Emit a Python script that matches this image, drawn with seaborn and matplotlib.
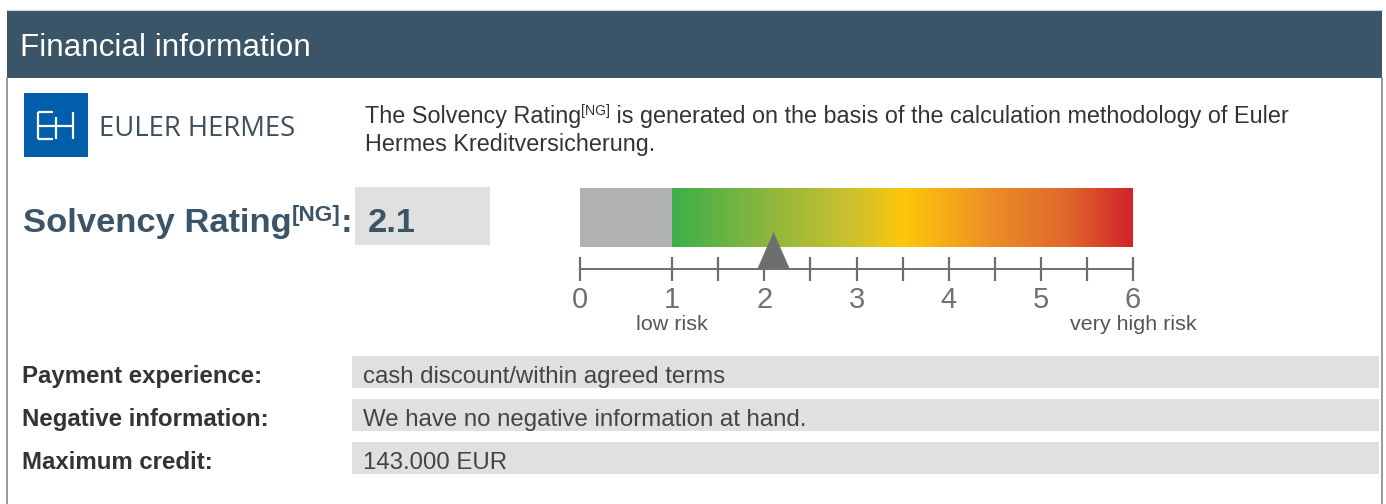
import numpy as np
import matplotlib
matplotlib.use("Agg")
import matplotlib.pyplot as plt
import matplotlib.transforms as mtransforms
from matplotlib.colors import LinearSegmentedColormap
from matplotlib.patches import Rectangle, Polygon
import seaborn as sns

# ---- content ----
header_title = "Financial information"
brand_name = "EULER HERMES"
intro_parts = ["The Solvency Rating", "[NG]",
               " is generated on the basis of the calculation methodology of Euler"]
intro_line2 = "Hermes Kreditversicherung."
rating_label = "Solvency Rating"
rating_note = "[NG]"
rating = 2.1

scale_major = [0, 1, 2, 3, 4, 5, 6]
scale_minor = [1.5, 2.5, 3.5, 4.5, 5.5]
no_rating = [0, 1]
rated = [1, 6]
scale_ends = {1: "low risk", 6: "very high risk"}

detail_labels = ["Payment experience:", "Negative information:", "Maximum credit:"]
detail_values = ["cash discount/within agreed terms",
                 "We have no negative information at hand.",
                 "143.000 EUR"]

# ---- style ----
HEAD = "#3a5468"
TXT = "#333333"
AXC = "#6d6e70"
BOX = "#e0e0e0"
grad_stops = [0.0, 0.2, 0.4, 0.5, 0.7, 0.86, 1.0]
grad_colors = ["#3daf4a", "#8bb63f", "#d0c12b", "#fdc80b", "#ec8c26", "#e0672b", "#d2232a"]
risk_cmap = LinearSegmentedColormap.from_list("risk", list(zip(grad_stops, grad_colors)))

sns.set_theme(style="white")
plt.rcParams["font.family"] = ["Liberation Sans", "DejaVu Sans"]

W, H = 1386, 504
fig = plt.figure(figsize=(W / 100, H / 100), dpi=100)
fig.patch.set_facecolor("white")

# background canvas in pixel units
bg = fig.add_axes([0, 0, 1, 1], zorder=0)
bg.set_xlim(0, W)
bg.set_ylim(H, 0)
bg.axis("off")


def pt(px):
    return px * 0.72


# header band and frame
bg.add_patch(Rectangle((7, 10), 1375, 68, color=HEAD, lw=0))
bg.plot([7, 1382], [10, 10], color="#d0d0d0", lw=0.8)
bg.plot([7, 7], [78, H], color="#999999", lw=1.4)
bg.plot([1382, 1382], [78, H], color="#999999", lw=1.4)
bg.text(20, 55.5, header_title, color="white", fontsize=pt(31.5), va="baseline")

# logo
bg.add_patch(Rectangle((24, 93), 64, 64, color="#005eab", lw=0))
glyph = [([37.5, 37.5], [112, 139]), ([37.5, 53], [112, 112]), ([37.5, 53], [139, 139]),
         ([37.5, 73], [125.5, 125.5]), ([55.5, 55.5], [117, 139]), ([73, 73], [112, 139])]
for gx_, gy_ in glyph:
    bg.plot(gx_, gy_, color="white", lw=1.6, solid_capstyle="butt")
bg.text(99, 135.5, brand_name, color="#3d4f5c", fontsize=pt(27.5),
        family=["Open Sans", "DejaVu Sans"], va="baseline")

renderer = fig.canvas.get_renderer()


def chain(x, y, parts, **kw):
    # parts: list of (text, size_px, dy, weight)
    for s, size, dy, weight in parts:
        t = bg.text(x, y + dy, s, fontsize=pt(size), fontweight=weight, va="baseline", **kw)
        x = t.get_window_extent(renderer).x1
    return x


chain(365, 123, [(intro_parts[0], 23.4, 0, "normal"), (intro_parts[1], 14, -8, "normal"),
                 (intro_parts[2], 23.4, 0, "normal")], color=TXT)
bg.text(365, 151, intro_line2, fontsize=pt(23.4), color=TXT, va="baseline")

# rating headline
bg.add_patch(Rectangle((355, 187), 135, 58, color=BOX, lw=0))
chain(23, 232, [(rating_label, 34.5, 0, "bold"), (rating_note, 22.5, -11, "bold"),
                (":", 34.5, 0, "bold")], color=HEAD)
bg.text(368, 232, f"{rating}", fontsize=pt(34.5), fontweight="bold", color=HEAD, va="baseline")

# ---- gauge ----
ga = fig.add_axes([580 / W, 1 - 290 / H, 553 / W, 110 / H], zorder=2)
ga.set_facecolor("none")
ga.barh(217.5, no_rating[1] - no_rating[0], left=no_rating[0], height=59,
        color="#b1b2b4", lw=0)
ga.imshow(np.linspace(0, 1, 400)[None, :], cmap=risk_cmap, aspect="auto",
          extent=(rated[0], rated[1], 247, 188), interpolation="bicubic")
ga.add_patch(Polygon([(rating - 0.174, 268.5), (rating + 0.174, 268.5), (rating, 232)],
                     closed=True, color=AXC, lw=0, zorder=4))
ga.set_xlim(0, 6)
ga.set_ylim(290, 180)
for side in ["top", "left", "right"]:
    ga.spines[side].set_visible(False)
ga.spines["bottom"].set_position(("data", 268.5))
ga.spines["bottom"].set_color(AXC)
ga.spines["bottom"].set_linewidth(1.4)
ga.set_xticks(scale_major)
ga.set_xticks(scale_minor, minor=True)
ga.set_yticks([])
ga.tick_params(axis="x", which="both", bottom=True, direction="inout", length=pt(24),
               width=1.6, color=AXC, labelsize=pt(29), labelcolor="#707173", pad=pt(5))
for xv, s in scale_ends.items():
    ga.text(xv, 330, s, ha="center", va="baseline", fontsize=pt(21.5), color="#555555")

# ---- detail rows ----
ta = fig.add_axes([352 / W, 1 - 474 / H, 1027 / W, 118 / H], zorder=1)
sns.barplot(x=[1] * len(detail_labels), y=detail_labels, orient="h", color=BOX,
            saturation=1, width=0.75, linewidth=0, ax=ta)
ta.set_xlim(0, 1)
ta.set_ylim(len(detail_labels) - 1 + 0.376, -0.376)
ta.axis("off")
row_lab = mtransforms.blended_transform_factory(bg.transData, ta.transData)
for i, (lab, val) in enumerate(zip(detail_labels, detail_values)):
    ta.text(22, i + 0.26, lab, transform=row_lab, fontsize=pt(24), fontweight="bold",
            color=TXT, va="baseline")
    ta.text(0.0107, i + 0.26, val, fontsize=pt(24), color="#444444", va="baseline")

fig.savefig("out.png", dpi=100)
